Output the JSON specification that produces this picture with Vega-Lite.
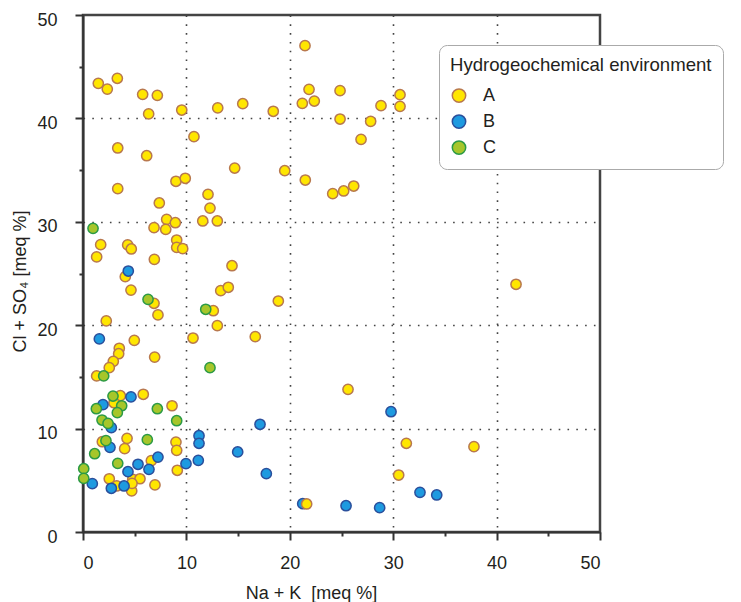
{
  "$schema": "https://vega.github.io/schema/vega-lite/v6.json",
  "width": 517,
  "height": 517,
  "autosize": {"type": "none"},
  "padding": {"left": 83, "top": 15, "right": 141, "bottom": 70},
  "background": "white",
  "data": {"values": [
    {"nak": 21.47, "clso4": 47.03, "env": "A"},
    {"nak": 1.48, "clso4": 43.39, "env": "A"},
    {"nak": 3.32, "clso4": 43.88, "env": "A"},
    {"nak": 2.35, "clso4": 42.84, "env": "A"},
    {"nak": 5.77, "clso4": 42.33, "env": "A"},
    {"nak": 7.19, "clso4": 42.23, "env": "A"},
    {"nak": 6.35, "clso4": 40.43, "env": "A"},
    {"nak": 9.55, "clso4": 40.81, "env": "A"},
    {"nak": 13.03, "clso4": 41.01, "env": "A"},
    {"nak": 15.45, "clso4": 41.42, "env": "A"},
    {"nak": 18.4, "clso4": 40.69, "env": "A"},
    {"nak": 21.21, "clso4": 41.46, "env": "A"},
    {"nak": 21.86, "clso4": 42.81, "env": "A"},
    {"nak": 22.37, "clso4": 41.68, "env": "A"},
    {"nak": 24.86, "clso4": 42.68, "env": "A"},
    {"nak": 24.86, "clso4": 39.94, "env": "A"},
    {"nak": 10.73, "clso4": 38.23, "env": "A"},
    {"nak": 3.36, "clso4": 37.14, "env": "A"},
    {"nak": 6.16, "clso4": 36.39, "env": "A"},
    {"nak": 14.67, "clso4": 35.2, "env": "A"},
    {"nak": 19.51, "clso4": 34.94, "env": "A"},
    {"nak": 21.5, "clso4": 34.04, "env": "A"},
    {"nak": 24.15, "clso4": 32.72, "env": "A"},
    {"nak": 3.36, "clso4": 33.2, "env": "A"},
    {"nak": 8.99, "clso4": 33.92, "env": "A"},
    {"nak": 9.89, "clso4": 34.21, "env": "A"},
    {"nak": 12.09, "clso4": 32.66, "env": "A"},
    {"nak": 12.28, "clso4": 31.33, "env": "A"},
    {"nak": 7.38, "clso4": 31.82, "env": "A"},
    {"nak": 8.09, "clso4": 30.24, "env": "A"},
    {"nak": 8.93, "clso4": 29.91, "env": "A"},
    {"nak": 6.87, "clso4": 29.43, "env": "A"},
    {"nak": 8.0, "clso4": 29.27, "env": "A"},
    {"nak": 11.58, "clso4": 30.08, "env": "A"},
    {"nak": 12.99, "clso4": 30.08, "env": "A"},
    {"nak": 1.71, "clso4": 27.79, "env": "A"},
    {"nak": 4.32, "clso4": 27.76, "env": "A"},
    {"nak": 4.67, "clso4": 27.37, "env": "A"},
    {"nak": 9.06, "clso4": 28.24, "env": "A"},
    {"nak": 9.06, "clso4": 27.53, "env": "A"},
    {"nak": 9.64, "clso4": 27.4, "env": "A"},
    {"nak": 1.32, "clso4": 26.6, "env": "A"},
    {"nak": 6.9, "clso4": 26.37, "env": "A"},
    {"nak": 14.41, "clso4": 25.75, "env": "A"},
    {"nak": 4.09, "clso4": 24.69, "env": "A"},
    {"nak": 30.66, "clso4": 42.29, "env": "A"},
    {"nak": 30.66, "clso4": 41.17, "env": "A"},
    {"nak": 28.82, "clso4": 41.23, "env": "A"},
    {"nak": 27.82, "clso4": 39.72, "env": "A"},
    {"nak": 26.89, "clso4": 37.98, "env": "A"},
    {"nak": 25.21, "clso4": 32.98, "env": "A"},
    {"nak": 26.18, "clso4": 33.46, "env": "A"},
    {"nak": 41.88, "clso4": 23.96, "env": "A"},
    {"nak": 4.64, "clso4": 23.4, "env": "A"},
    {"nak": 6.87, "clso4": 22.12, "env": "A"},
    {"nak": 7.25, "clso4": 20.99, "env": "A"},
    {"nak": 2.25, "clso4": 20.41, "env": "A"},
    {"nak": 13.32, "clso4": 23.34, "env": "A"},
    {"nak": 14.05, "clso4": 23.67, "env": "A"},
    {"nak": 18.89, "clso4": 22.34, "env": "A"},
    {"nak": 12.6, "clso4": 21.4, "env": "A"},
    {"nak": 12.99, "clso4": 19.95, "env": "A"},
    {"nak": 4.96, "clso4": 18.54, "env": "A"},
    {"nak": 10.64, "clso4": 18.76, "env": "A"},
    {"nak": 16.66, "clso4": 18.89, "env": "A"},
    {"nak": 3.51, "clso4": 17.77, "env": "A"},
    {"nak": 3.45, "clso4": 17.24, "env": "A"},
    {"nak": 6.93, "clso4": 16.92, "env": "A"},
    {"nak": 2.93, "clso4": 16.51, "env": "A"},
    {"nak": 2.54, "clso4": 15.89, "env": "A"},
    {"nak": 1.32, "clso4": 15.09, "env": "A"},
    {"nak": 3.61, "clso4": 13.18, "env": "A"},
    {"nak": 5.83, "clso4": 13.32, "env": "A"},
    {"nak": 3.0, "clso4": 12.5, "env": "A"},
    {"nak": 8.61, "clso4": 12.21, "env": "A"},
    {"nak": 4.26, "clso4": 9.06, "env": "A"},
    {"nak": 1.87, "clso4": 8.73, "env": "A"},
    {"nak": 4.03, "clso4": 8.06, "env": "A"},
    {"nak": 8.99, "clso4": 8.7, "env": "A"},
    {"nak": 9.06, "clso4": 7.9, "env": "A"},
    {"nak": 6.61, "clso4": 6.9, "env": "A"},
    {"nak": 9.12, "clso4": 5.97, "env": "A"},
    {"nak": 2.54, "clso4": 5.15, "env": "A"},
    {"nak": 3.26, "clso4": 4.45, "env": "A"},
    {"nak": 4.81, "clso4": 5.1, "env": "A"},
    {"nak": 5.51, "clso4": 5.15, "env": "A"},
    {"nak": 4.71, "clso4": 3.97, "env": "A"},
    {"nak": 4.74, "clso4": 4.71, "env": "A"},
    {"nak": 6.96, "clso4": 4.55, "env": "A"},
    {"nak": 25.63, "clso4": 13.8, "env": "A"},
    {"nak": 31.27, "clso4": 8.58, "env": "A"},
    {"nak": 37.81, "clso4": 8.25, "env": "A"},
    {"nak": 30.53, "clso4": 5.51, "env": "A"},
    {"nak": 4.38, "clso4": 25.24, "env": "B"},
    {"nak": 1.58, "clso4": 18.67, "env": "B"},
    {"nak": 4.64, "clso4": 13.06, "env": "B"},
    {"nak": 1.93, "clso4": 12.31, "env": "B"},
    {"nak": 2.74, "clso4": 10.09, "env": "B"},
    {"nak": 17.12, "clso4": 10.42, "env": "B"},
    {"nak": 11.22, "clso4": 9.31, "env": "B"},
    {"nak": 11.22, "clso4": 8.58, "env": "B"},
    {"nak": 2.61, "clso4": 8.19, "env": "B"},
    {"nak": 7.25, "clso4": 7.25, "env": "B"},
    {"nak": 5.32, "clso4": 6.55, "env": "B"},
    {"nak": 6.38, "clso4": 6.06, "env": "B"},
    {"nak": 4.35, "clso4": 5.83, "env": "B"},
    {"nak": 9.96, "clso4": 6.61, "env": "B"},
    {"nak": 11.15, "clso4": 6.93, "env": "B"},
    {"nak": 14.96, "clso4": 7.74, "env": "B"},
    {"nak": 17.73, "clso4": 5.64, "env": "B"},
    {"nak": 0.9, "clso4": 4.67, "env": "B"},
    {"nak": 2.74, "clso4": 4.23, "env": "B"},
    {"nak": 3.97, "clso4": 4.45, "env": "B"},
    {"nak": 21.25, "clso4": 2.74, "env": "B"},
    {"nak": 29.79, "clso4": 11.63, "env": "B"},
    {"nak": 25.44, "clso4": 2.54, "env": "B"},
    {"nak": 28.69, "clso4": 2.35, "env": "B"},
    {"nak": 32.59, "clso4": 3.84, "env": "B"},
    {"nak": 34.21, "clso4": 3.58, "env": "B"},
    {"nak": 21.63, "clso4": 2.71, "env": "A"},
    {"nak": 0.97, "clso4": 29.37, "env": "C"},
    {"nak": 6.29, "clso4": 22.5, "env": "C"},
    {"nak": 11.87, "clso4": 21.54, "env": "C"},
    {"nak": 12.28, "clso4": 15.89, "env": "C"},
    {"nak": 2.0, "clso4": 15.09, "env": "C"},
    {"nak": 2.9, "clso4": 13.15, "env": "C"},
    {"nak": 3.74, "clso4": 12.21, "env": "C"},
    {"nak": 1.29, "clso4": 11.92, "env": "C"},
    {"nak": 3.32, "clso4": 11.54, "env": "C"},
    {"nak": 7.19, "clso4": 11.92, "env": "C"},
    {"nak": 1.84, "clso4": 10.83, "env": "C"},
    {"nak": 2.42, "clso4": 10.51, "env": "C"},
    {"nak": 9.06, "clso4": 10.76, "env": "C"},
    {"nak": 2.22, "clso4": 8.83, "env": "C"},
    {"nak": 6.22, "clso4": 8.93, "env": "C"},
    {"nak": 1.13, "clso4": 7.57, "env": "C"},
    {"nak": 3.36, "clso4": 6.64, "env": "C"},
    {"nak": 0.07, "clso4": 6.12, "env": "C"},
    {"nak": 0.07, "clso4": 5.19, "env": "C"}
  ]},
  "mark": {"type": "point", "shape": "circle", "filled": false, "size": 105, "strokeWidth": 1.5, "opacity": 1, "fillOpacity": 1, "strokeOpacity": 1},
  "encoding": {
    "x": {
      "field": "nak", "type": "quantitative",
      "scale": {"domain": [0, 50], "nice": false, "zero": false},
      "axis": {
        "title": "Na + K\u00a0 [meq %]",
        "values": [0, 5, 10, 15, 20, 25, 30, 35, 40, 45, 50],
        "labelExpr": "datum.value % 10 === 0 ? datum.label : ''",
        "tickSize": {"condition": {"test": "datum.value % 10 === 0", "value": 8}, "value": 4},
        "gridOpacity": {"condition": {"test": "datum.value % 10 === 0 && datum.value > 0 && datum.value < 50", "value": 1}, "value": 0},
        "labelPadding": 14,
        "titleX": 228,
        "titleY": 66,
        "titleBaseline": "alphabetic",
        "titleAlign": "center",
        "titleAnchor": null
      }
    },
    "y": {
      "field": "clso4", "type": "quantitative",
      "scale": {"domain": [0, 50], "nice": false, "zero": false},
      "axis": {
        "title": "Cl + SO₄ [meq %]",
        "values": [0, 5, 10, 15, 20, 25, 30, 35, 40, 45, 50],
        "labelExpr": "datum.value % 10 === 0 ? datum.label : ''",
        "tickSize": {"condition": {"test": "datum.value % 10 === 0", "value": 8}, "value": 4},
        "gridOpacity": {"condition": {"test": "datum.value % 10 === 0 && datum.value > 0 && datum.value < 50", "value": 1}, "value": 0},
        "labelPadding": 18,
        "labelOffset": 5,
        "titleX": -58,
        "titleY": 266,
        "titleBaseline": "alphabetic",
        "titleAlign": "center",
        "titleAngle": -90,
        "titleAnchor": null
      }
    },
    "fill": {
      "field": "env", "type": "nominal",
      "scale": {"domain": ["A", "B", "C"], "range": ["#FFE600", "#1E9AE0", "#A6C62A"]},
      "legend": {"title": "Hydrogeochemical environment"}
    },
    "stroke": {
      "field": "env", "type": "nominal",
      "scale": {"domain": ["A", "B", "C"], "range": ["#B8784E", "#2A4F9C", "#2B9A45"]},
      "legend": {"title": "Hydrogeochemical environment"}
    }
  },
  "config": {
    "font": "Liberation Sans",
    "view": {"stroke": "#444", "strokeWidth": 2.5},
    "axis": {
      "domainColor": "#333",
      "domainWidth": 2,
      "tickColor": "#333",
      "tickWidth": 2,
      "grid": true,
      "gridColor": "#444",
      "gridWidth": 1.6,
      "gridDash": [1.6, 7.2],
      "labelFont": "Liberation Sans",
      "labelFontSize": 18,
      "labelColor": "#231f20",
      "titleFont": "Liberation Sans",
      "titleFontSize": 18,
      "titleFontWeight": "normal",
      "titleColor": "#231f20"
    },
    "legend": {
      "orient": "none",
      "legendX": 356,
      "legendY": 30,
      "fillColor": "white",
      "strokeColor": "#aaa",
      "cornerRadius": 8,
      "padding": 11,
      "titleFont": "Liberation Sans",
      "titleFontSize": 18.6,
      "titleFontWeight": "normal",
      "titleColor": "#231f20",
      "titleLimit": 500,
      "titlePadding": 12,
      "labelFont": "Liberation Sans",
      "labelFontSize": 18,
      "labelColor": "#231f20",
      "labelOffset": 15,
      "symbolSize": 180,
      "symbolStrokeWidth": 1.5,
      "symbolType": "circle",
      "rowPadding": 6
    }
  }
}
